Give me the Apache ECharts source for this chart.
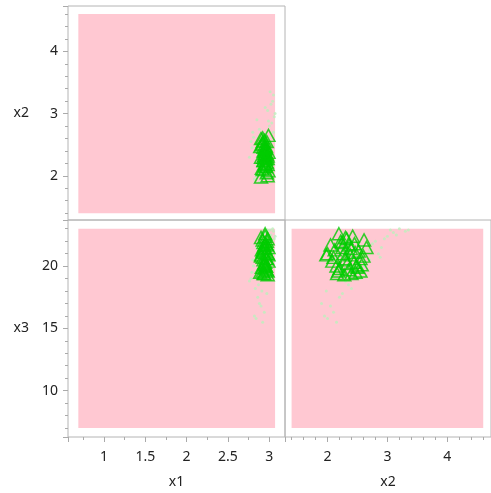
<!DOCTYPE html>
<html><head><meta charset="utf-8">
<script src="https://cdn.jsdelivr.net/npm/echarts@6/dist/echarts.min.js"></script>
<style>html,body{margin:0;padding:0;background:#fff}#c{width:491px;height:493px}</style>
</head><body><div id="c"></div>
<script>
// Axis ranges
const x1Range = [0.565, 3.19];
const x2Range = [1.29, 4.73];
const x3Range = [6.28, 23.7];
// Extent of the dense pink sample cloud
const pinkX1 = [0.69, 3.07];
const pinkX2 = [1.40, 4.60];
const pinkX3 = [7.0, 23.0];
// Green triangle points
const triX1 = [2.95,2.92,2.98,2.90,2.96,2.93,2.99,2.91,2.97,2.94,2.95,2.89,2.98,2.93,2.96,2.92,2.99,2.94,2.90,2.97,2.95,2.93,2.98,2.91,2.96,2.94,2.92,2.97,2.95,2.99,2.93,2.96,2.90,2.98,2.94,2.95,2.92,2.97,2.96,2.93];
const triX2 = [2.19,2.61,2.00,2.30,2.45,2.25,2.38,2.12,2.55,2.33,2.20,2.47,2.28,2.40,2.15,2.52,2.08,2.36,2.60,2.22,2.42,2.30,2.18,2.50,2.27,2.57,2.10,2.35,2.44,2.65,2.24,2.48,1.98,2.32,2.16,2.39,2.55,2.05,2.29,2.46];
const triX3 = [22.6,22.1,21.0,22.3,21.8,21.5,20.9,21.3,20.6,20.2,19.8,19.5,19.3,19.4,20.0,21.2,20.4,21.7,20.8,22.0,22.4,20.5,19.6,19.9,21.0,20.1,20.7,19.7,20.3,21.5,21.9,20.0,20.9,22.2,19.4,21.4,19.6,21.7,20.6,21.1];
// Light green points
const lgX1 = [3.05,3.02,2.98,3.06,2.85,3.00,2.80,2.88,3.04,2.95,2.78,2.83,2.86,2.90,2.82,2.92,2.76,2.88,3.03,3.07,2.81,2.94,2.87,2.79,3.01,2.97,2.84,3.05,2.91,2.99];
const lgX2 = [3.30,3.15,3.05,2.95,2.90,2.80,2.70,2.75,3.20,3.10,2.55,2.40,2.20,2.05,1.95,2.15,2.30,1.90,2.85,3.00,2.62,2.10,2.35,2.45,3.35,2.25,2.00,2.70,1.98,2.88];
const lgX3 = [22.8,22.5,22.9,22.2,21.5,22.0,20.5,21.8,23.0,22.7,19.0,18.2,17.5,16.8,16.0,15.5,18.8,17.0,21.0,22.4,20.0,16.3,18.5,19.5,22.9,17.8,15.8,21.3,18.0,20.7];

const pairs = (a, b) => a.map((v, i) => [v, b[i]]);
const FONT = 'Noto Sans';
const tickCol = '#aaaaaa';

function xAx(grid, r, show, name, minorSplit) {
  return {
    type: 'value', gridIndex: grid, min: r[0], max: r[1], splitNumber: name === 'x1' ? 5 : 4,
    name: show ? name : '', nameLocation: 'middle', nameGap: 38,
    nameTextStyle: {fontFamily: FONT, fontSize: 14, color: '#222'},
    axisLine: {show: false}, splitLine: {show: false},
    axisTick: {show: show, length: 5, lineStyle: {color: tickCol}},
    minorTick: {show: show, splitNumber: minorSplit, length: 3, lineStyle: {color: tickCol}},
    axisLabel: {show: show, margin: 13, fontFamily: FONT, fontSize: 14, color: '#222', showMinLabel: false, showMaxLabel: false}
  };
}
function yAx(grid, r, show, name, split) {
  return {
    type: 'value', gridIndex: grid, min: r[0], max: r[1], splitNumber: split,
    name: show ? name : '', nameLocation: 'middle', nameGap: 39, nameRotate: 0,
    nameTextStyle: {fontFamily: FONT, fontSize: 14, color: '#222'},
    axisLine: {show: false}, splitLine: {show: false},
    axisTick: {show: show, length: 5, lineStyle: {color: tickCol}},
    minorTick: {show: show, splitNumber: 5, length: 3, lineStyle: {color: tickCol}},
    axisLabel: {show: show, margin: 10, fontFamily: FONT, fontSize: 14, color: '#222', showMinLabel: false, showMaxLabel: false}
  };
}

function panel(idx, px, py, gx, gy, trx, tr_y) {
  return [
    {type: 'scatter', xAxisIndex: idx, yAxisIndex: idx, data: [], silent: true,
     markArea: {silent: true, itemStyle: {color: '#ffc8d2', opacity: 1},
       data: [[{coord: [px[0], py[0]]}, {coord: [px[1], py[1]]}]]}},
    {type: 'scatter', xAxisIndex: idx, yAxisIndex: idx, data: pairs(gx, gy), symbol: 'circle', symbolSize: 3,
     itemStyle: {color: '#bdf0bd', borderWidth: 0}, z: 3, silent: true},
    {type: 'scatter', xAxisIndex: idx, yAxisIndex: idx, data: pairs(trx, tr_y), symbol: 'triangle', symbolSize: [13, 12],
     itemStyle: {color: 'rgba(0,0,0,0)', borderColor: '#00cc00', borderWidth: 1.5}, z: 4, silent: true}
  ];
}

const chart = echarts.init(document.getElementById('c'), null, {renderer: 'canvas'});
chart.setOption({
  animation: false,
  grid: [
    {left: 68, top: 6, width: 217, height: 214, show: true, borderColor: '#b4b4b4', borderWidth: 1},
    {left: 68, top: 220, width: 217, height: 217, show: true, borderColor: '#b4b4b4', borderWidth: 1},
    {left: 285, top: 220, width: 214, height: 217, show: true, borderColor: '#b4b4b4', borderWidth: 1}
  ],
  xAxis: [xAx(0, x1Range, false, 'x1', 2), xAx(1, x1Range, true, 'x1', 2), xAx(2, x2Range, true, 'x2', 5)],
  yAxis: [yAx(0, x2Range, true, 'x2', 4), yAx(1, x3Range, true, 'x3', 3), yAx(2, x3Range, false, 'x3', 3)],
  series: [
    ...panel(0, pinkX1, pinkX2, lgX1, lgX2, triX1, triX2),
    ...panel(1, pinkX1, pinkX3, lgX1, lgX3, triX1, triX3),
    ...panel(2, pinkX2, pinkX3, lgX2, lgX3, triX2, triX3)
  ]
});
</script></body></html>
